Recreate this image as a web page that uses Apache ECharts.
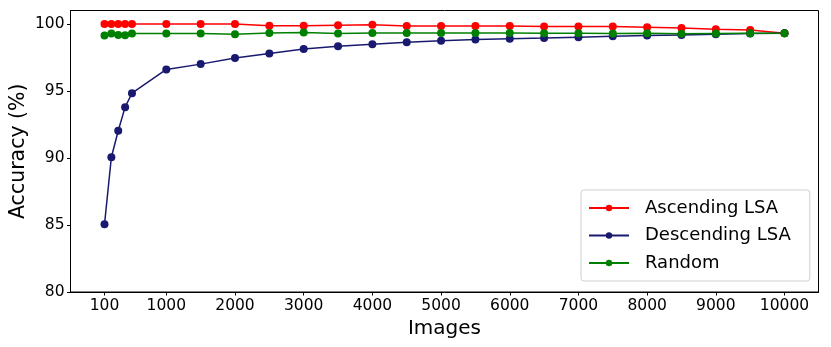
<!DOCTYPE html>
<html>
<head>
<meta charset="utf-8">
<script src="https://cdn.jsdelivr.net/npm/echarts@6/dist/echarts.min.js"></script>
<style>
  html, body { margin: 0; padding: 0; background: #fff; }
  #main { width: 831px; height: 347px; }
</style>
</head>
<body>
<div id="main"></div>
<script>
// *******Chart Data*******
var images = [100, 200, 300, 400, 500, 1000, 1500, 2000, 2500, 3000, 3500, 4000, 4500, 5000,
    5500, 6000, 6500, 7000, 7500, 8000, 8500, 9000, 9500, 10000];
var ascendingLSA = [100, 100, 100, 100, 100, 100, 100, 100, 99.87, 99.87, 99.9, 99.93, 99.85, 99.85,
    99.85, 99.85, 99.8, 99.8, 99.8, 99.75, 99.7, 99.6, 99.55, 99.31];
var descendingLSA = [85.05, 90.05, 92.03, 93.79, 94.83, 96.6, 97.0, 97.45, 97.8, 98.12, 98.34, 98.49, 98.64, 98.74,
    98.84, 98.89, 98.94, 99.01, 99.08, 99.13, 99.18, 99.23, 99.28, 99.3];
var random = [99.13, 99.28, 99.18, 99.16, 99.28, 99.28, 99.28, 99.23, 99.33, 99.35, 99.28, 99.33, 99.33, 99.33,
    99.33, 99.32, 99.3, 99.3, 99.28, 99.3, 99.26, 99.28, 99.3, 99.3];
var xTicks = [100, 1000, 2000, 3000, 4000, 5000, 6000, 7000, 8000, 9000, 10000];
var yTicks = [80, 85, 90, 95, 100];

var FONT = 'DejaVu Sans';

function pairs(values) {
    var result = [];
    for (var i = 0; i < images.length; i++) {
        result.push([images[i], values[i]]);
    }
    return result;
}

function lineSeries(name, color, values) {
    return {
        name: name,
        type: 'line',
        data: pairs(values),
        symbol: 'circle',
        symbolSize: 8,
        showAllSymbol: true,
        itemStyle: { color: color },
        lineStyle: { color: color, width: 1.5 },
        emphasis: { disabled: true },
        animation: false
    };
}

var myChart = echarts.init(document.getElementById('main'), null, { renderer: 'canvas' });

var option = {
    backgroundColor: '#fff',
    animation: false,
    grid: {
        left: 70.5, right: 12.5, top: 10.5, bottom: 55,
        outerBoundsMode: 'none',
        show: true, borderColor: '#000', borderWidth: 1, backgroundColor: 'transparent'
    },
    legend: {
        orient: 'vertical',
        left: 581, top: 190,
        padding: [8, 19, 8, 7],
        itemWidth: 40, itemHeight: 8, itemGap: 7.5,
        backgroundColor: '#fff',
        borderColor: '#d0d0d0', borderWidth: 1, borderRadius: 3,
        textStyle: { fontFamily: FONT, fontSize: 18, color: '#000', lineHeight: 20, padding: [0, 0, 0, 11] },
        data: ['Ascending LSA', 'Descending LSA', 'Random']
    },
    xAxis: {
        type: 'value',
        min: -395, max: 10495,
        name: 'Images', nameLocation: 'middle', nameGap: 27, nameMoveOverlap: false,
        nameTextStyle: { fontFamily: FONT, fontSize: 20, color: '#000' },
        axisLine: { show: true, onZero: false, lineStyle: { color: '#000', width: 1 } },
        axisTick: { show: true, length: 3.5, customValues: xTicks, lineStyle: { color: '#000' } },
        axisLabel: {
            customValues: xTicks, margin: 6, fontFamily: FONT, fontSize: 15.5, color: '#000',
            formatter: function (v) { return String(v); }
        },
        splitLine: { show: false }
    },
    yAxis: {
        type: 'value',
        min: 80, max: 101,
        name: 'Accuracy (%)', nameLocation: 'middle', nameGap: 41, nameMoveOverlap: false,
        nameTextStyle: { fontFamily: FONT, fontSize: 20.5, color: '#000' },
        axisLine: { show: true, onZero: false, lineStyle: { color: '#000', width: 1 } },
        axisTick: { show: true, length: 3.5, customValues: yTicks, lineStyle: { color: '#000' } },
        axisLabel: {
            customValues: yTicks, margin: 6, fontFamily: FONT, fontSize: 15.5, color: '#000',
            formatter: function (v) { return String(v); }
        },
        splitLine: { show: false }
    },
    series: [
        lineSeries('Ascending LSA', '#ff0000', ascendingLSA),
        lineSeries('Descending LSA', '#191970', descendingLSA),
        lineSeries('Random', '#008000', random)
    ]
};

myChart.setOption(option);
</script>
</body>
</html>
